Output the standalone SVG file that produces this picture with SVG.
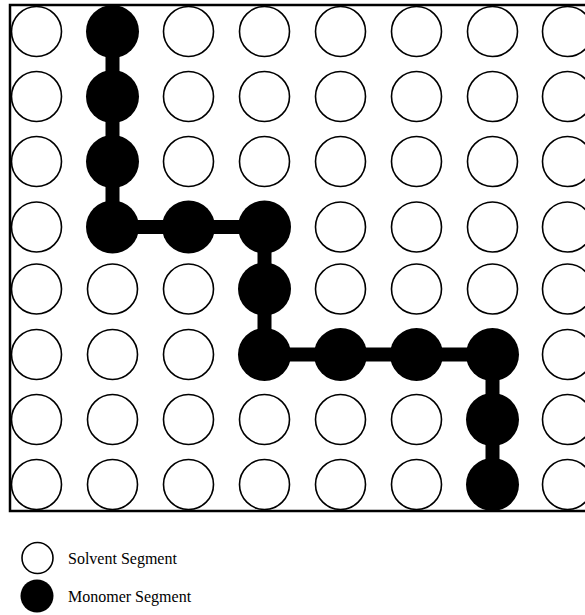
<svg xmlns="http://www.w3.org/2000/svg" width="585" height="615" viewBox="0 0 585 615">
<style>
.s{fill:#fff;stroke:#000;stroke-width:1.6}
.m{fill:#000;stroke:none}
.lbl{font-family:"Liberation Serif","Times New Roman",serif;font-size:16px;fill:#000}
</style>
<rect x="0" y="0" width="585" height="615" fill="#fff"/>
<rect x="10" y="5" width="620" height="506" fill="none" stroke="#000" stroke-width="2.5"/>
<g id="connectors">
<polyline points="112.5,31 112.5,227 264.5,227 264.5,354.5 492.5,354.5 492.5,484.5" fill="none" stroke="#000" stroke-width="14"/>
</g>
<g id="r1">
<g id="n1_1"><circle class="s" cx="36.5" cy="31.5" r="25"/></g>
<g id="n1_2"><circle class="m" cx="112.5" cy="31.5" r="26.5"/></g>
<g id="n1_3"><circle class="s" cx="188.5" cy="31.5" r="25"/></g>
<g id="n1_4"><circle class="s" cx="264.5" cy="31.5" r="25"/></g>
<g id="n1_5"><circle class="s" cx="340.5" cy="31.5" r="25"/></g>
<g id="n1_6"><circle class="s" cx="416.5" cy="31.5" r="25"/></g>
<g id="n1_7"><circle class="s" cx="492.5" cy="31.5" r="25"/></g>
<g id="n1_8"><circle class="s" cx="567.5" cy="31.5" r="25"/></g>
</g>
<g id="r2">
<g id="n2_1"><circle class="s" cx="36.5" cy="96.5" r="25"/></g>
<g id="n2_2"><circle class="m" cx="112.5" cy="96.5" r="26.5"/></g>
<g id="n2_3"><circle class="s" cx="188.5" cy="96.5" r="25"/></g>
<g id="n2_4"><circle class="s" cx="264.5" cy="96.5" r="25"/></g>
<g id="n2_5"><circle class="s" cx="340.5" cy="96.5" r="25"/></g>
<g id="n2_6"><circle class="s" cx="416.5" cy="96.5" r="25"/></g>
<g id="n2_7"><circle class="s" cx="492.5" cy="96.5" r="25"/></g>
<g id="n2_8"><circle class="s" cx="567.5" cy="96.5" r="25"/></g>
</g>
<g id="r3">
<g id="n3_1"><circle class="s" cx="36.5" cy="161.5" r="25"/></g>
<g id="n3_2"><circle class="m" cx="112.5" cy="161.5" r="26.5"/></g>
<g id="n3_3"><circle class="s" cx="188.5" cy="161.5" r="25"/></g>
<g id="n3_4"><circle class="s" cx="264.5" cy="161.5" r="25"/></g>
<g id="n3_5"><circle class="s" cx="340.5" cy="161.5" r="25"/></g>
<g id="n3_6"><circle class="s" cx="416.5" cy="161.5" r="25"/></g>
<g id="n3_7"><circle class="s" cx="492.5" cy="161.5" r="25"/></g>
<g id="n3_8"><circle class="s" cx="567.5" cy="161.5" r="25"/></g>
</g>
<g id="r4">
<g id="n4_1"><circle class="s" cx="36.5" cy="227" r="25"/></g>
<g id="n4_2"><circle class="m" cx="112.5" cy="227" r="26.5"/></g>
<g id="n4_3"><circle class="m" cx="188.5" cy="227" r="26.5"/></g>
<g id="n4_4"><circle class="m" cx="264.5" cy="227" r="26.5"/></g>
<g id="n4_5"><circle class="s" cx="340.5" cy="227" r="25"/></g>
<g id="n4_6"><circle class="s" cx="416.5" cy="227" r="25"/></g>
<g id="n4_7"><circle class="s" cx="492.5" cy="227" r="25"/></g>
<g id="n4_8"><circle class="s" cx="567.5" cy="227" r="25"/></g>
</g>
<g id="r5">
<g id="n5_1"><circle class="s" cx="36.5" cy="289" r="25"/></g>
<g id="n5_2"><circle class="s" cx="112.5" cy="289" r="25"/></g>
<g id="n5_3"><circle class="s" cx="188.5" cy="289" r="25"/></g>
<g id="n5_4"><circle class="m" cx="264.5" cy="289" r="26.5"/></g>
<g id="n5_5"><circle class="s" cx="340.5" cy="289" r="25"/></g>
<g id="n5_6"><circle class="s" cx="416.5" cy="289" r="25"/></g>
<g id="n5_7"><circle class="s" cx="492.5" cy="289" r="25"/></g>
<g id="n5_8"><circle class="s" cx="567.5" cy="289" r="25"/></g>
</g>
<g id="r6">
<g id="n6_1"><circle class="s" cx="36.5" cy="354.5" r="25"/></g>
<g id="n6_2"><circle class="s" cx="112.5" cy="354.5" r="25"/></g>
<g id="n6_3"><circle class="s" cx="188.5" cy="354.5" r="25"/></g>
<g id="n6_4"><circle class="m" cx="264.5" cy="354.5" r="26.5"/></g>
<g id="n6_5"><circle class="m" cx="340.5" cy="354.5" r="26.5"/></g>
<g id="n6_6"><circle class="m" cx="416.5" cy="354.5" r="26.5"/></g>
<g id="n6_7"><circle class="m" cx="492.5" cy="354.5" r="26.5"/></g>
<g id="n6_8"><circle class="s" cx="567.5" cy="354.5" r="25"/></g>
</g>
<g id="r7">
<g id="n7_1"><circle class="s" cx="36.5" cy="419.5" r="25"/></g>
<g id="n7_2"><circle class="s" cx="112.5" cy="419.5" r="25"/></g>
<g id="n7_3"><circle class="s" cx="188.5" cy="419.5" r="25"/></g>
<g id="n7_4"><circle class="s" cx="264.5" cy="419.5" r="25"/></g>
<g id="n7_5"><circle class="s" cx="340.5" cy="419.5" r="25"/></g>
<g id="n7_6"><circle class="s" cx="416.5" cy="419.5" r="25"/></g>
<g id="n7_7"><circle class="m" cx="492.5" cy="419.5" r="26.5"/></g>
<g id="n7_8"><circle class="s" cx="567.5" cy="419.5" r="25"/></g>
</g>
<g id="r8">
<g id="n8_1"><circle class="s" cx="36.5" cy="484.5" r="25"/></g>
<g id="n8_2"><circle class="s" cx="112.5" cy="484.5" r="25"/></g>
<g id="n8_3"><circle class="s" cx="188.5" cy="484.5" r="25"/></g>
<g id="n8_4"><circle class="s" cx="264.5" cy="484.5" r="25"/></g>
<g id="n8_5"><circle class="s" cx="340.5" cy="484.5" r="25"/></g>
<g id="n8_6"><circle class="s" cx="416.5" cy="484.5" r="25"/></g>
<g id="n8_7"><circle class="m" cx="492.5" cy="484.5" r="26.5"/></g>
<g id="n8_8"><circle class="s" cx="567.5" cy="484.5" r="25"/></g>
</g>
<g id="legend-solvent">
<circle class="s" cx="37.5" cy="558" r="15.5"/>
<text class="lbl" x="68" y="564">Solvent Segment</text>
</g>
<g id="legend-monomer">
<circle class="m" cx="37" cy="596" r="16.5"/>
<text class="lbl" x="68" y="602">Monomer Segment</text>
</g>
</svg>
